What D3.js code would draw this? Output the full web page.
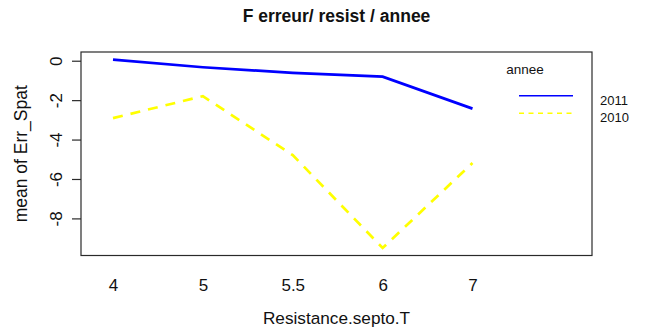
<!DOCTYPE html>
<html>
<head>
<meta charset="utf-8">
<script src="https://cdn.jsdelivr.net/npm/d3@7"></script>
<style>
  html, body { margin: 0; padding: 0; background: #fff; }
  svg { display: block; font-family: "Liberation Sans", Arial, sans-serif; }
</style>
</head>
<body>
<svg id="chart" width="646" height="336"></svg>
<script>
// Mean spatial error by resistance level, one line per year
const categories = ["4", "5", "5.5", "6", "7"];
const years = ["2011", "2010"];
const values2011 = [0.06, -0.33, -0.62, -0.81, -2.43];
const values2010 = [-2.91, -1.80, -4.79, -9.50, -5.19];
const yTicks = [0, -2, -4, -6, -8];

const seriesColors = { "2011": "#0000ff", "2010": "#ffff00" };
const seriesDash = { "2011": null, "2010": "10,8" };
const legendDash = { "2011": null, "2010": "5,4.5" };

const box = { left: 81, right: 592, top: 52, bottom: 255.5 };
const svg = d3.select("#chart");

// y domain: data extent padded by 4% on each side
const all = values2011.concat(values2010);
const lo = d3.min(all), hi = d3.max(all), pad = (hi - lo) * 0.04;
const y = d3.scaleLinear().domain([lo - pad, hi + pad]).range([box.bottom, box.top]);
const x = d3.scalePoint().domain(categories).range([113, 472.5]);

// plot frame
svg.append("rect")
  .attr("x", box.left).attr("y", box.top)
  .attr("width", box.right - box.left).attr("height", box.bottom - box.top)
  .attr("fill", "none").attr("stroke", "#2a2a2a").attr("stroke-width", 1.2);

// y axis (ticks pointing outward, labels rotated)
const yAxis = d3.axisLeft(y).tickValues(yTicks).tickSize(9).tickPadding(0).tickFormat(d3.format("d"));
const gy = svg.append("g").attr("transform", `translate(${box.left},0)`).call(yAxis);
gy.select(".domain").remove();
gy.selectAll(".tick line").attr("stroke", "#2a2a2a").attr("stroke-width", 1.2);
gy.selectAll(".tick text")
  .attr("x", null).attr("dy", null)
  .attr("transform", "translate(-19,0) rotate(-90)")
  .attr("text-anchor", "middle")
  .attr("font-size", 17).attr("fill", "#111")
  .text(d => d === 0 ? "0" : String(d).replace("-", "-"));

// x axis labels only (no tick marks)
const xAxis = d3.axisBottom(x).tickSize(0).tickPadding(0);
const gx = svg.append("g").attr("transform", `translate(0,${box.bottom})`).call(xAxis);
gx.select(".domain").remove();
gx.selectAll(".tick text")
  .attr("y", 35.5).attr("dy", null)
  .attr("font-size", 17).attr("fill", "#111");

// series lines
const line = d3.line().x((d, i) => x(categories[i])).y(d => y(d));
const seriesData = { "2011": values2011, "2010": values2010 };
years.forEach(yr => {
  svg.append("path")
    .datum(seriesData[yr])
    .attr("d", line)
    .attr("fill", "none")
    .attr("stroke", seriesColors[yr])
    .attr("stroke-width", 2.7)
    .attr("stroke-dasharray", seriesDash[yr]);
});

// titles
svg.append("text")
  .attr("x", (box.left + box.right) / 2).attr("y", 22)
  .attr("text-anchor", "middle").attr("font-weight", "bold")
  .attr("font-size", 17.5).attr("fill", "#111")
  .text("F erreur/ resist / annee");

svg.append("text")
  .attr("x", (box.left + box.right) / 2).attr("y", 323.5)
  .attr("text-anchor", "middle").attr("font-size", 17.2).attr("fill", "#111")
  .text("Resistance.septo.T");

svg.append("text")
  .attr("transform", `translate(27,${(box.top + box.bottom) / 2}) rotate(-90)`)
  .attr("text-anchor", "middle").attr("font-size", 17.5).attr("fill", "#111")
  .text("mean of  Err_Spat");

// legend
svg.append("text")
  .attr("x", 525).attr("y", 73.5)
  .attr("text-anchor", "middle").attr("font-size", 13.5).attr("fill", "#111")
  .text("annee");

years.forEach((yr, i) => {
  const ly = 95.7 + i * 17.6;
  svg.append("line")
    .attr("x1", 519).attr("x2", 573).attr("y1", ly).attr("y2", ly)
    .attr("stroke", seriesColors[yr]).attr("stroke-width", 1.4)
    .attr("stroke-dasharray", legendDash[yr]);
  svg.append("text")
    .attr("x", 600).attr("y", ly + 9)
    .attr("font-size", 13).attr("fill", "#111")
    .text(yr);
});
</script>
</body>
</html>
